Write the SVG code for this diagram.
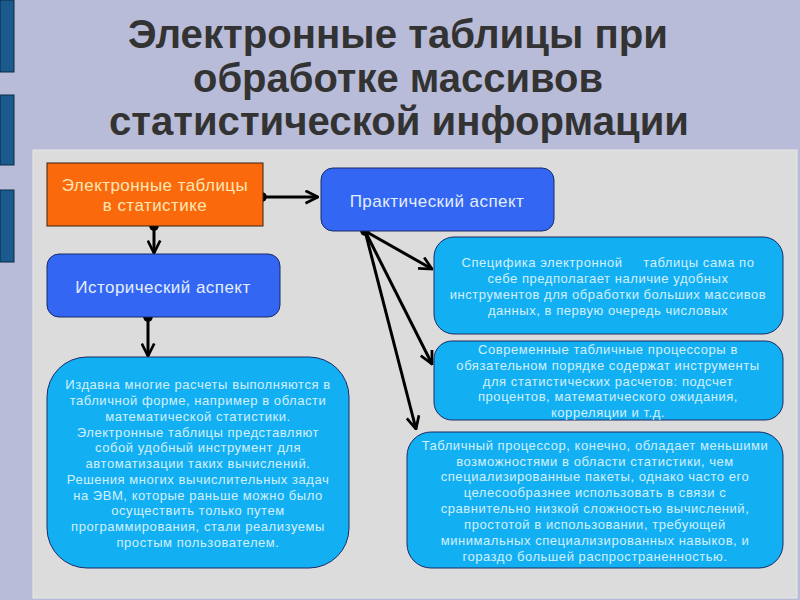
<svg xmlns="http://www.w3.org/2000/svg" width="800" height="600" viewBox="0 0 800 600">
<defs>
<style>
.title{font-family:"Liberation Sans",Arial,sans-serif;font-weight:bold;font-size:41px;fill:#333333;text-anchor:middle}
.hdr{font-family:"Liberation Sans",Arial,sans-serif;font-size:17px;letter-spacing:0.45px;text-anchor:middle}
.body{font-family:"Liberation Sans",Arial,sans-serif;font-size:13px;letter-spacing:0.55px;fill:#d2efff;text-anchor:middle}
.bar{fill:#1b5a8c;stroke:#0d2a45;stroke-width:1}
.blue{fill:#3366f2;stroke:#1a2a66;stroke-width:1}
.sky{fill:#12b0f2;stroke:#1a2a66;stroke-width:1}
.conn{stroke:#000;stroke-width:3;fill:none}
</style>
<marker id="arr" viewBox="0 0 12 12" refX="11" refY="6" markerWidth="5" markerHeight="5" markerUnits="strokeWidth" orient="auto">
<path d="M1,1 L11,6 L1,11" fill="none" stroke="#000" stroke-width="2.2"/>
</marker>
<marker id="dot" viewBox="0 0 10 10" refX="5" refY="5" markerWidth="3.2" markerHeight="3.2" markerUnits="strokeWidth">
<circle cx="5" cy="5" r="5" fill="#000"/>
</marker>
</defs>
<rect x="0" y="0" width="800" height="600" fill="#b8bcd8"/>
<rect class="bar" x="0" y="0" width="14" height="72"/>
<rect class="bar" x="0" y="95" width="14" height="70"/>
<rect class="bar" x="0" y="190" width="14" height="72"/>
<rect x="33" y="150" width="764" height="448" fill="#dcdcdc" stroke="#e8e8e8" stroke-width="1"/>
<g id="title">
<text class="title" x="398" y="48" textLength="540" lengthAdjust="spacingAndGlyphs">Электронные таблицы при</text>
<text class="title" x="398" y="92" textLength="410" lengthAdjust="spacingAndGlyphs">обработке массивов</text>
<text class="title" x="399" y="135" textLength="580" lengthAdjust="spacingAndGlyphs">статистической информации</text>
</g>
<g id="connectors">
<line class="conn" x1="262" y1="197" x2="318" y2="197" marker-start="url(#dot)" marker-end="url(#arr)"/>
<line class="conn" x1="154" y1="226" x2="154" y2="253" marker-start="url(#dot)" marker-end="url(#arr)"/>
<line class="conn" x1="148" y1="317" x2="148" y2="356" marker-start="url(#dot)" marker-end="url(#arr)"/>
<line class="conn" x1="365" y1="231" x2="432" y2="269" marker-start="url(#dot)" marker-end="url(#arr)"/>
<line class="conn" x1="365" y1="231" x2="432" y2="364" marker-end="url(#arr)"/>
<line class="conn" x1="365" y1="231" x2="416" y2="429" marker-end="url(#arr)"/>
</g>
<g id="node-stats">
<rect x="47" y="163" width="216" height="63" fill="#fa6a0c" stroke="#3a2010" stroke-width="1"/>
<text class="hdr" x="155" y="191" fill="#ffe6b4">Электронные таблицы</text>
<text class="hdr" x="155" y="211" fill="#ffe6b4">в статистике</text>
</g>
<g id="node-practical">
<rect class="blue" x="321" y="168" width="233" height="63" rx="12"/>
<text class="hdr" x="437" y="207" fill="#e4eeff">Практический аспект</text>
</g>
<g id="node-historical">
<rect class="blue" x="47" y="254" width="233" height="63" rx="12"/>
<text class="hdr" x="163" y="293" fill="#e4eeff">Исторический аспект</text>
</g>
<g id="node-hist-text">
<rect class="sky" x="47" y="357" width="302" height="211" rx="40"/>
<text class="body" x="198" y="389">Издавна многие расчеты выполняются в</text>
<text class="body" x="198" y="405">табличной форме, например в области</text>
<text class="body" x="198" y="421">математической статистики.</text>
<text class="body" x="198" y="437">Электронные таблицы представляют</text>
<text class="body" x="198" y="452">собой удобный инструмент для</text>
<text class="body" x="198" y="468">автоматизации таких вычислений.</text>
<text class="body" x="198" y="484">Решения многих вычислительных задач</text>
<text class="body" x="198" y="500">на ЭВМ, которые раньше можно было</text>
<text class="body" x="198" y="515">осуществить только путем</text>
<text class="body" x="198" y="531">программирования, стали реализуемы</text>
<text class="body" x="198" y="547">простым пользователем.</text>
</g>
<g id="node-spec">
<rect class="sky" x="434" y="237" width="349" height="97" rx="20"/>
<text class="body" x="608" y="267">Специфика электронной &#160;&#160;&#160; таблицы сама по</text>
<text class="body" x="608" y="283">себе предполагает наличие удобных</text>
<text class="body" x="608" y="299">инструментов для обработки больших массивов</text>
<text class="body" x="608" y="315">данных, в первую очередь числовых</text>
</g>
<g id="node-modern">
<rect class="sky" x="434" y="341" width="349" height="79" rx="18"/>
<text class="body" x="608" y="354">Современные табличные процессоры в</text>
<text class="body" x="608" y="370">обязательном порядке содержат инструменты</text>
<text class="body" x="608" y="386">для статистических расчетов: подсчет</text>
<text class="body" x="608" y="401">процентов, математического ожидания,</text>
<text class="body" x="608" y="417">корреляции и т.д.</text>
</g>
<g id="node-proc">
<rect class="sky" x="407" y="432" width="376" height="136" rx="24"/>
<text class="body" x="595" y="450">Табличный процессор, конечно, обладает меньшими</text>
<text class="body" x="595" y="466">возможностями в области статистики, чем</text>
<text class="body" x="595" y="481">специализированные пакеты, однако часто его</text>
<text class="body" x="595" y="497">целесообразнее использовать в связи с</text>
<text class="body" x="595" y="513">сравнительно низкой сложностью вычислений,</text>
<text class="body" x="595" y="529">простотой в использовании, требующей</text>
<text class="body" x="595" y="545">минимальных специализированных навыков, и</text>
<text class="body" x="595" y="561">гораздо большей распространенностью.</text>
</g>
</svg>
